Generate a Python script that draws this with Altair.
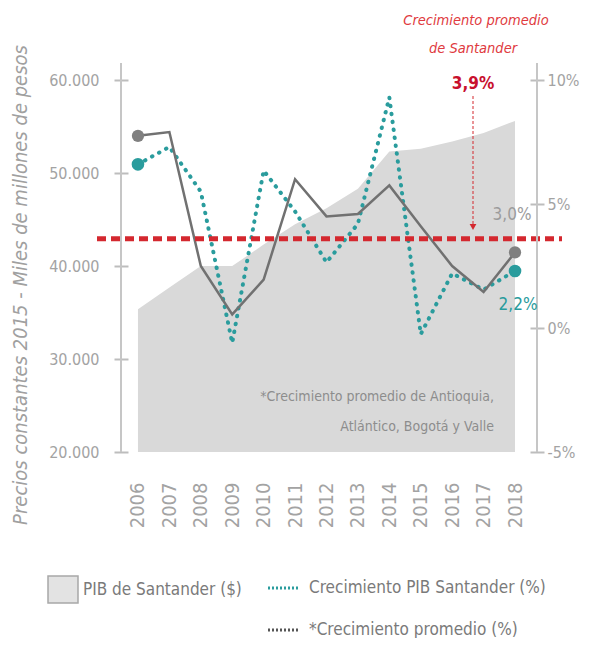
import altair as alt
import pandas as pd

# ---------------- data ----------------
years = list(range(2006, 2019))
pib_santander = [35350, 37700, 40000, 40000, 42300, 44500, 46200, 48300, 52300, 52600, 53400, 54300, 55600]
crec_santander = [6.6, 7.3, 5.5, -0.6, 6.35, 4.7, 2.65, 4.2, 9.3, -0.25, 2.2, 1.55, 2.3]
crec_promedio = [7.75, 7.9, 2.5, 0.55, 1.95, 6.0, 4.5, 4.6, 5.75, 4.1, 2.5, 1.45, 3.05]
linea_promedio_santander = [3.6]

left_ticks = [20000, 30000, 40000, 50000, 60000]
right_ticks = [-5, 0, 5, 10]

titulo_anot = ["Crecimiento promedio", "de Santander"]
valor_anot = "3,9%"
nota = ["*Crecimiento promedio de Antioquia,", "Atlántico, Bogotá y Valle"]
leyenda = ["PIB  de Santander ($)", "Crecimiento PIB Santander (%)", "*Crecimiento promedio (%)"]
axis_title = "Precios constantes 2015 - Miles de millones de pesos"

# ---------------- styling ----------------
FONT = "Liberation Sans Narrow, Arial Narrow, DejaVu Sans Condensed, sans-serif"
TEAL = "#2a9c9d"
GRAY_LINE = "#717171"
AREA = "#d9d9d9"
RED = "#d4282f"
LABEL = "#a3a3a3"
W, H = 416, 372

df = pd.DataFrame({"year": years, "pib": pib_santander,
                   "santander": crec_santander, "promedio": crec_promedio})
one = pd.DataFrame({"k": [0]})

xscale = alt.Scale(domain=[2005.46, 2018.70], nice=False, zero=False)
lscale = alt.Scale(domain=[20000, 60000], nice=False, zero=False)
rscale = alt.Scale(domain=[-5, 10], nice=False, zero=False)

XAX = alt.Axis(
    values=years, format="d", labelAngle=270, domain=False, ticks=False, grid=False,
    labelPadding=30, labelFont=FONT, labelFontSize=20, labelColor=LABEL, title=None,
    labelOverlap=False)
X = alt.X("year:Q", scale=xscale, axis=XAX)

RAX = alt.Axis(
    values=right_ticks, orient="right", domain=False, grid=False,
    tickSize=14, offset=-7, tickColor="#bdbdbd", tickWidth=2,
    labelExpr="datum.value + '%'",
    labelPadding=3, labelFont=FONT, labelFontSize=16, labelColor=LABEL, title=None)

area = alt.Chart(df).mark_area(color=AREA, opacity=1, clip=True).encode(
    x=X,
    y=alt.Y("pib:Q", scale=lscale, axis=alt.Axis(
        values=left_ticks, orient="left", domain=False, grid=False,
        tickSize=14, offset=-7, tickColor="#bdbdbd", tickWidth=2,
        labelExpr="replace(format(datum.value, ','), ',', '.')",
        labelPadding=15, labelFont=FONT, labelFontSize=16, labelColor=LABEL, title=None)),
)

teal_line = alt.Chart(df).mark_line(
    color=TEAL, strokeWidth=4, strokeDash=[0.5, 7.5], strokeCap="round").encode(
    x=X, y=alt.Y("santander:Q", scale=rscale, axis=RAX))
gray_line = alt.Chart(df).mark_line(color=GRAY_LINE, strokeWidth=2.5).encode(
    x=X, y=alt.Y("promedio:Q", scale=rscale, axis=RAX))

ends = df[df["year"].isin([years[0], years[-1]])]
gray_pts = alt.Chart(ends).mark_circle(color="#808080", opacity=1, size=150).encode(
    x=X, y=alt.Y("promedio:Q", scale=rscale, axis=RAX))
teal_pts = alt.Chart(ends).mark_circle(color=TEAL, opacity=1, size=160).encode(
    x=X, y=alt.Y("santander:Q", scale=rscale, axis=RAX))

red_rule = alt.Chart(pd.DataFrame({"v": linea_promedio_santander})).mark_rule(
    color=RED, strokeWidth=5, strokeDash=[9, 5]).encode(
    y=alt.Y("v:Q", scale=rscale, axis=RAX), x=alt.value(-24), x2=alt.value(441))

pct_layer = alt.layer(teal_line, gray_line, red_rule, gray_pts, teal_pts)

# axis lines (vertical)
axis_lines = alt.Chart(one).mark_rule(color="#c6c6c6", strokeWidth=2).encode(
    x=alt.value(0), y=alt.value(-17), y2=alt.value(H))
axis_lines_r = alt.Chart(one).mark_rule(color="#c6c6c6", strokeWidth=2).encode(
    x=alt.value(W), y=alt.value(-17), y2=alt.value(H))

# annotation arrow
arrow_line = alt.Chart(one).mark_rule(color=RED, strokeWidth=1, strokeDash=[3, 2]).encode(
    x=alt.value(352), y=alt.value(16), y2=alt.value(146))
arrow_head = alt.Chart(one).mark_point(shape="triangle-down", filled=True, color=RED,
                                       size=45, opacity=1).encode(
    x=alt.value(352), y=alt.value(147))

def txt(s, x, y, color, size, align="center", style="normal", weight="normal", angle=0):
    kw = dict(text=s, font=FONT, fontSize=size, color=color, align=align,
              baseline="middle", fontStyle=style, fontWeight=weight)
    if angle:
        kw["angle"] = angle
    return alt.Chart(one).mark_text(**kw).encode(x=alt.value(x), y=alt.value(y))

texts = [
    txt(titulo_anot[0], 355, -59, "#e03a40", 14.5, style="italic"),
    txt(titulo_anot[1], 352, -31, "#e03a40", 14.5, style="italic"),
    txt(valor_anot, 352, 4, "#c8102e", 17, weight="bold"),
    txt("3,0%", 391, 135, "#9c9c9c", 17),
    txt("2,2%", 397, 225, TEAL, 17),
    txt(nota[0], 373, 317, "#8d8d8d", 14, align="right"),
    txt(nota[1], 373, 347, "#8d8d8d", 14, align="right"),
    txt(axis_title, -100, 205, "#a0a0a0", 20, style="italic", angle=270),
    txt(leyenda[0], -38, 510, "#7a7a7a", 17, align="left"),
    txt(leyenda[1], 188, 508, "#7a7a7a", 17, align="left"),
    txt(leyenda[2], 188, 550, "#7a7a7a", 17, align="left"),
]

leg_rect = alt.Chart(one).mark_rect(fill="#e3e3e3", stroke="#a8a8a8", strokeWidth=1.5).encode(
    x=alt.value(-73), x2=alt.value(-43), y=alt.value(496), y2=alt.value(523))
leg_teal = alt.Chart(one).mark_rule(color=TEAL, strokeWidth=3, strokeDash=[2, 2]).encode(
    x=alt.value(147), x2=alt.value(177), y=alt.value(508))
leg_gray = alt.Chart(one).mark_rule(color="#555555", strokeWidth=3, strokeDash=[2, 2]).encode(
    x=alt.value(147), x2=alt.value(177), y=alt.value(550))

chart = alt.layer(
    area, pct_layer, axis_lines, axis_lines_r, arrow_line, arrow_head,
    leg_rect, leg_teal, leg_gray, *texts
).resolve_scale(y="independent").properties(
    width=W, height=H,
    background="white",
    autosize=alt.AutoSizeParams(type="none"),
    padding={"left": 113, "top": 72, "right": 44, "bottom": 186},
).configure_view(stroke=None)

chart.save("out.html", embed_options={"renderer": "svg", "actions": False})
